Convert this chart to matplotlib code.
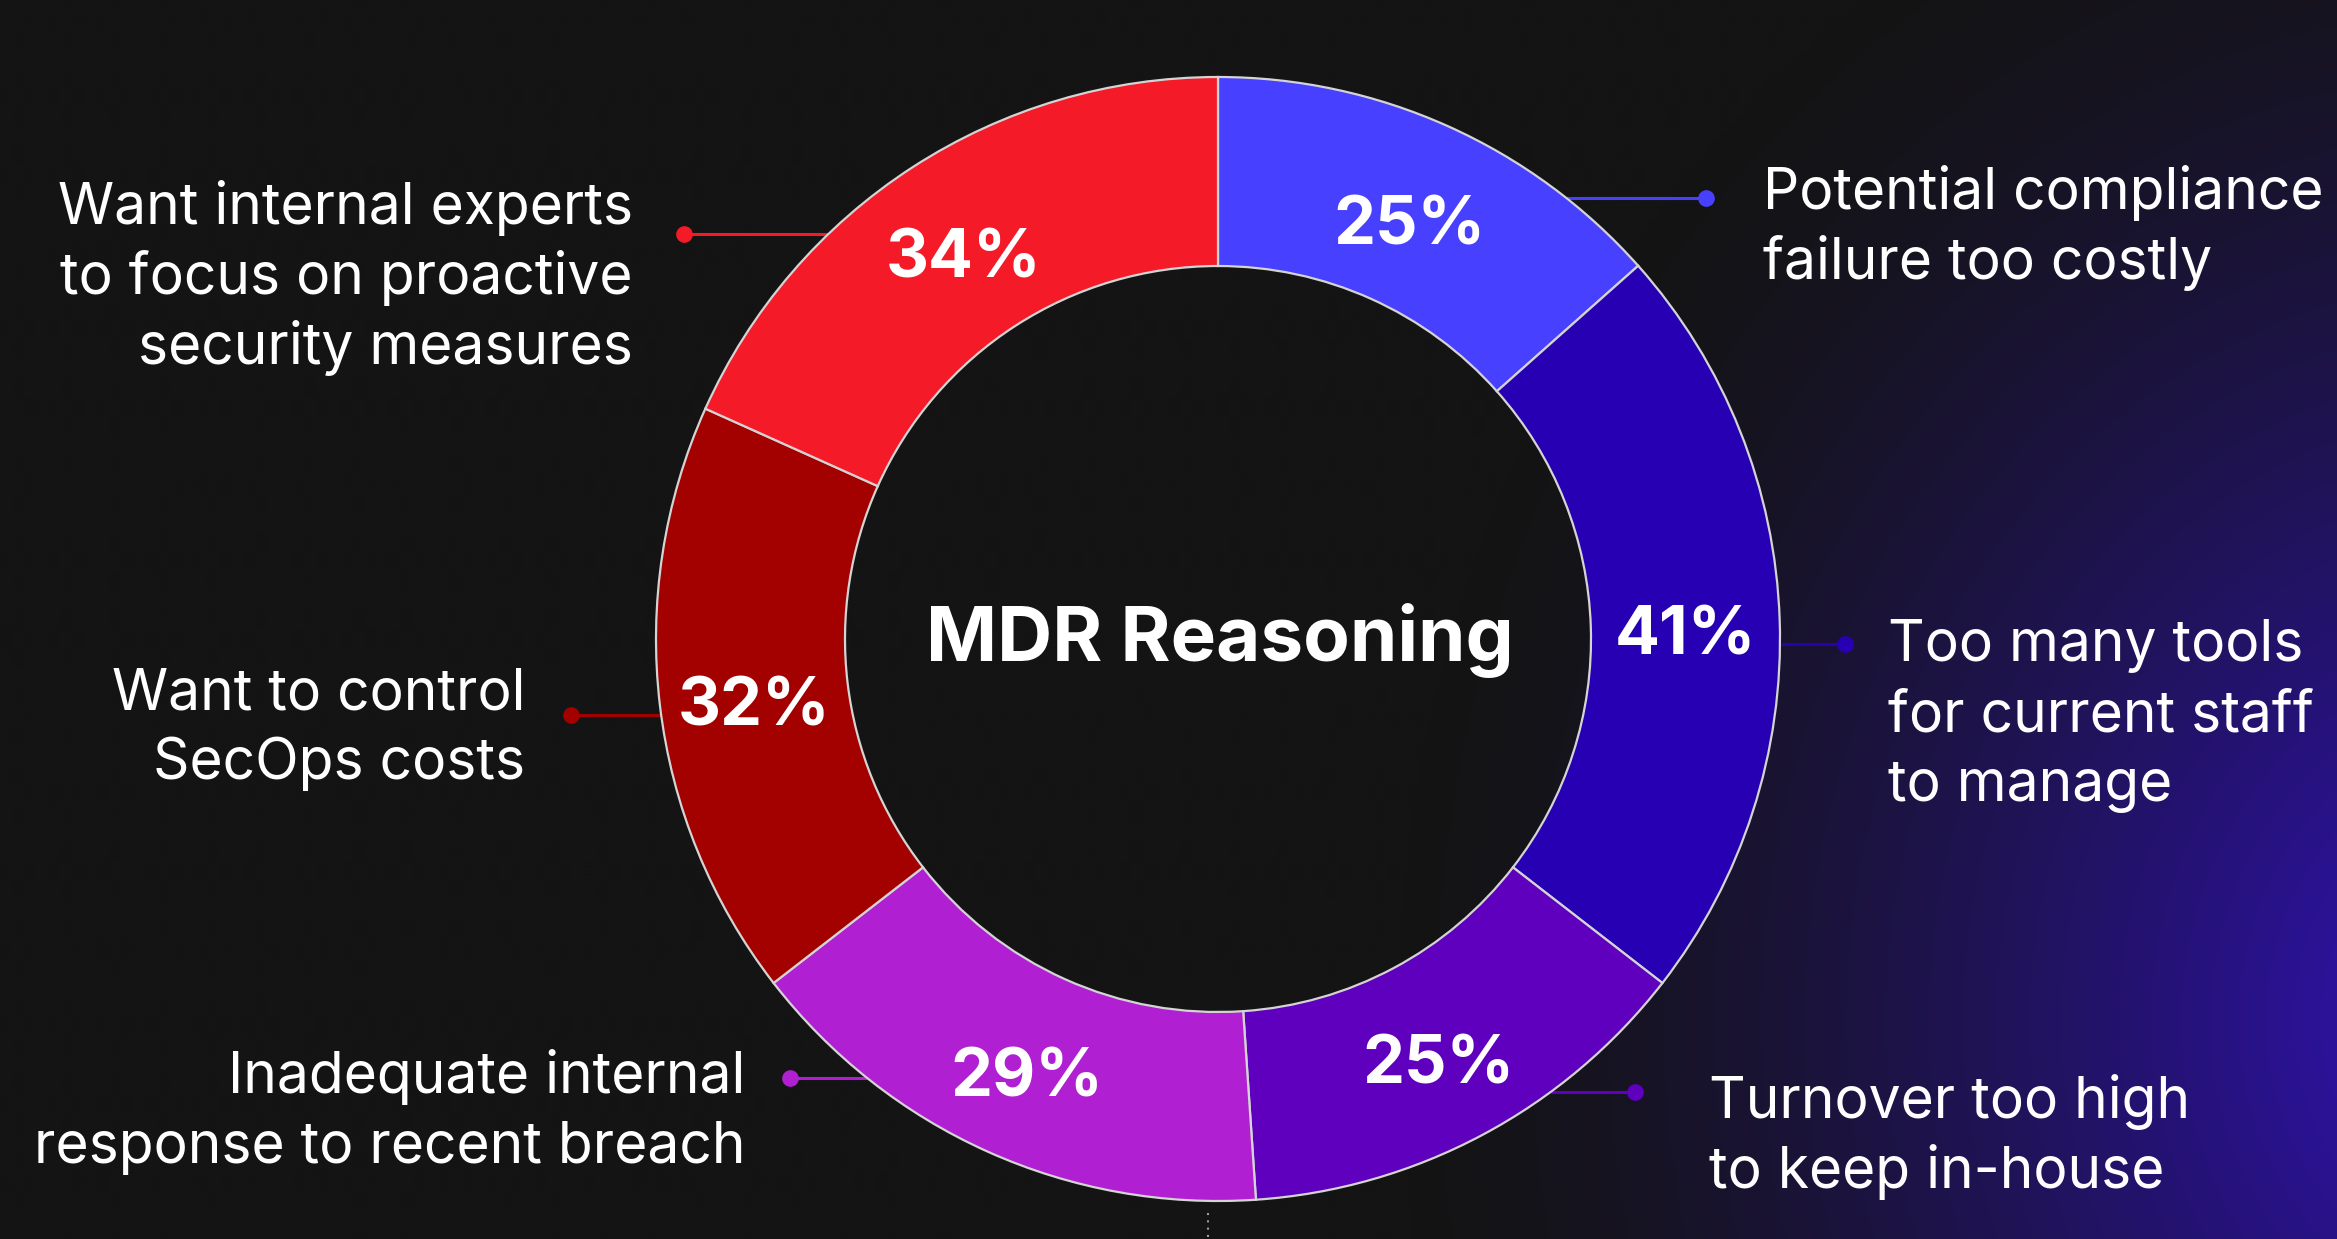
import numpy as np
import matplotlib.pyplot as plt

plt.rcParams['font.family'] = ['Inter', 'DejaVu Sans']

W, H = 2337, 1239

# -----------------------------
# Daten
# -----------------------------
title = "MDR Reasoning"
values = [25, 41, 25, 29, 32, 34]
labels = [
    "Potential compliance\nfailure too costly",
    "Too many tools\nfor current staff\nto manage",
    "Turnover too high\nto keep in-house",
    "Inadequate internal\nresponse to recent breach",
    "Want to control\nSecOps costs",
    "Want internal experts\nto focus on proactive\nsecurity measures",
]
colors = ["#4840ff", "#2800b4", "#5e00be", "#b020d2", "#a30000", "#f41a28"]

# -----------------------------
# Layout (Pixel, y von oben)
# -----------------------------
CX, CY = 1218, 639
R_OUT, R_IN = 562, 373
R_LABEL = (R_OUT + R_IN) / 2
LABEL_DROP = 14

# je Label: y der Linie, x des Punktes, x des Textes, erste Baseline, Seite
callouts = [
    (198, 1706, 1763, 209, "right"),
    (644, 1845, 1888, 661, "right"),
    (1092, 1635, 1709, 1118, "right"),
    (1078, 790, 745, 1093, "left"),
    (715, 571, 525, 709, "left"),
    (234, 684, 633, 224, "left"),
]
LINE_PITCH = 70

BG = np.array([20, 20, 20]) / 255
GLOW = np.array([50, 18, 190]) / 255


def Y(y):
    return H - y


fig = plt.figure(figsize=(W / 100, H / 100), dpi=100)
fig.patch.set_facecolor('#141414')
ax = fig.add_axes([0, 0, 1, 1])

# Hintergrund mit lila Schein rechts unten
yy, xx = np.mgrid[0:H:4, 0:W:4]
d = np.hypot((xx - 2500) / 1100, (yy - 1020) / 1250)
f = np.clip(1 - d, 0, 1) ** 1.5
img = BG[None, None, :] * (1 - f[..., None]) + GLOW[None, None, :] * f[..., None]
ax.imshow(img, extent=[0, W, 0, H], origin='upper', zorder=0,
          interpolation='bilinear', aspect='auto')

# Donut
wedges, _ = ax.pie(
    values,
    colors=colors,
    radius=R_OUT,
    center=(CX, Y(CY)),
    startangle=90,
    counterclock=False,
    wedgeprops=dict(width=R_OUT - R_IN, edgecolor='#d4d4d4', linewidth=1.6),
)
for w in wedges:
    w.set_zorder(3)

for w, v in zip(wedges, values):
    ang = np.deg2rad((w.theta1 + w.theta2) / 2)
    ax.text(CX + R_LABEL * np.cos(ang),
            Y(CY) + R_LABEL * np.sin(ang) - LABEL_DROP,
            f"{v}%", color='white', fontsize=48, fontweight='bold',
            ha='center', va='center', zorder=5)

ax.text(CX + 2, Y(CY + 2), title, color='white', fontsize=55,
        fontweight='bold', ha='center', va='center', zorder=5)

# Beschriftungen mit Verbindungslinien
for lab, col, (ly, dx, tx, base, side) in zip(labels, colors, callouts):
    edge = np.sqrt(R_OUT**2 - (ly - CY)**2)
    ex = CX + edge if side == "right" else CX - edge
    ax.plot([ex, dx], [Y(ly), Y(ly)], color=col, lw=2.2, zorder=2,
            solid_capstyle='butt')
    ax.plot(dx, Y(ly), 'o', color=col, markersize=11, zorder=4)
    ha = 'left' if side == "right" else 'right'
    for i, line in enumerate(lab.split("\n")):
        ax.text(tx, Y(base + i * LINE_PITCH), line, color='white',
                fontsize=41, ha=ha, va='baseline', zorder=5)

# kleine gepunktete Linie unten
ax.plot([1208, 1208], [Y(1213), Y(1239)], color='#9a9a9a', lw=1.5,
        linestyle=(0, (1, 2.5)), zorder=2)

ax.set_xlim(0, W)
ax.set_ylim(0, H)
ax.set_aspect('auto')
ax.axis('off')

fig.savefig('out.png', dpi=100, facecolor=fig.get_facecolor())
